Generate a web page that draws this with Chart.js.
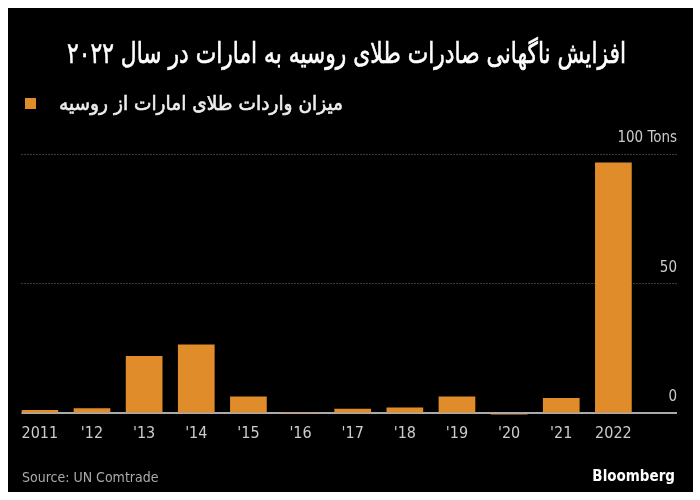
<!DOCTYPE html>
<html>
<head>
<meta charset="utf-8">
<script src="https://cdn.jsdelivr.net/npm/chart.js@4"></script>
<style>
    html, body { margin: 0; padding: 0; background: #fff; }
    body { width: 700px; height: 500px; position: relative; overflow: hidden; }
    .panel { position: absolute; left: 8px; top: 8px; width: 685px; height: 484px; background: #000; }
    .panel canvas { position: absolute; left: 0; top: 0; }
    .fit { position: absolute; white-space: nowrap; direction: rtl; font-family: "DejaVu Sans", sans-serif; color: #fff;
        transform-origin: 0 0; -webkit-text-stroke: 0.6px currentColor; }
    .title { left: 59px; top: 28px; font-size: 29px; }
    .legend-label { left: 51px; top: 83px; font-size: 20px; color: #eee; }
    .legend-box { position: absolute; left: 17px; top: 90px; width: 11px; height: 11px; }
    .source { position: absolute; left: 14px; top: 461px; font-family: "Liberation Sans Narrow", "DejaVu Sans Condensed", sans-serif;
        font-size: 14px; color: #aaa; }
    .brand { position: absolute; right: 18px; top: 459px; font-family: "Liberation Sans Narrow", "DejaVu Sans Condensed", sans-serif;
        font-size: 15px; font-weight: bold; color: #fff; }
</style>
</head>
<body>
<div class="panel">
    <canvas id="goldChart" width="685" height="484"></canvas>
    <div class="fit title" id="title" data-w="559">افزایش ناگهانی صادرات طلای روسیه به امارات در سال ۲۰۲۲</div>
    <span class="legend-box" id="legendBox"></span>
    <div class="fit legend-label" id="legendLabel" data-w="284"></div>
    <div class="source">Source: UN Comtrade</div>
    <div class="brand">Bloomberg</div>
</div>
<script>
const years = ['2011', "'12", "'13", "'14", "'15", "'16", "'17", "'18", "'19", "'20", "'21", '2022'];
const imports = [1.3, 2.0, 22.2, 26.6, 6.5, 0.5, 1.8, 2.3, 6.5, -0.6, 5.9, 96.8];
const yTicks = [0, 50, 100];
const seriesLabel = 'میزان واردات طلای امارات از روسیه';
const barColor = '#E08C2A';

document.getElementById('legendBox').style.background = barColor;
document.getElementById('legendLabel').textContent = seriesLabel;

// squeeze the Persian lines to the width they have in the original
document.querySelectorAll('.fit').forEach(el => {
    const w = el.getBoundingClientRect().width;
    el.style.transform = 'scaleX(' + (el.dataset.w / w) + ')';
});

const latin = '"Liberation Sans Narrow", "DejaVu Sans Condensed", sans-serif';

const ctx = document.getElementById('goldChart').getContext('2d');
new Chart(ctx, {
    type: 'bar',
    data: {
        datasets: [{
            label: seriesLabel,
            data: imports.map((v, i) => ({ x: i, y: v })),
            backgroundColor: barColor,
            barPercentage: 0.704,
            categoryPercentage: 1
        }]
    },
    options: {
        responsive: false,
        animation: false,
        layout: { padding: { left: 13.5, right: 16, top: 146.3, bottom: 46 } },
        plugins: { legend: { display: false }, tooltip: { enabled: false } },
        scales: {
            x: {
                type: 'linear',
                offset: false,
                min: -0.352,
                max: 12.22,
                afterBuildTicks: s => { s.ticks = years.map((y, i) => ({ value: i })); },
                afterFit: s => { s.height = 30; },
                grid: { display: false, drawTicks: false },
                border: { display: false },
                ticks: {
                    autoSkip: false,
                    maxRotation: 0,
                    padding: 8,
                    color: '#ccc',
                    font: { family: latin, size: 16 },
                    callback: v => years[v]
                }
            },
            y: {
                position: 'right',
                min: -1,
                max: 100,
                afterBuildTicks: s => { s.ticks = yTicks.map(v => ({ value: v })); },
                border: { display: false, dash: c => (c.tick && c.tick.value === 0) ? [] : [1, 2] },
                grid: {
                    drawTicks: false,
                    color: c => (c.tick && c.tick.value === 0) ? '#aaa' : '#777',
                    lineWidth: c => (c.tick && c.tick.value === 0) ? 2 : 1
                },
                ticks: {
                    mirror: true,
                    padding: 0,
                    labelOffset: -16,
                    color: '#ccc',
                    font: { family: latin, size: 15 },
                    callback: v => v === 100 ? '100 Tons' : String(v)
                }
            }
        }
    }
});
</script>
</body>
</html>
